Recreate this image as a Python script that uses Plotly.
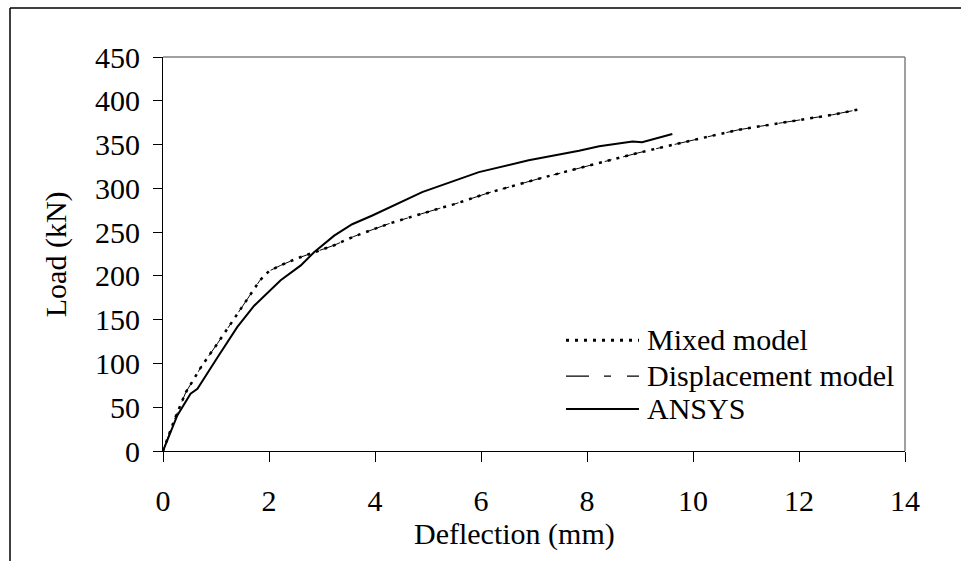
import plotly.graph_objects as go

# ---- data ----
mixed_x = [0, 0.21, 0.43, 0.74, 1.03, 1.34, 1.65, 1.83, 2.0, 2.22, 2.53, 2.85, 3.23, 3.6,
           4.26, 5.21, 5.5, 6.15, 7.09, 8.04, 9.0, 10.11, 10.87, 11.69, 12.63, 13.2]
mixed_y = [0, 35, 67, 98, 123, 151, 178, 195, 205.5, 212, 220, 227, 235, 245,
           259.6, 277, 282, 295, 311, 326, 341, 356.6, 367, 375, 384, 391]
disp_x = [0, 0.21, 0.43, 0.74, 1.03, 1.34, 1.65, 1.83, 2.0, 2.22, 2.53, 2.85, 3.23, 3.6,
          4.26, 5.21, 5.5, 6.15, 7.09, 8.04, 9.0, 10.11, 10.87, 11.69, 12.63, 13.2]
disp_y = [0, 35, 67, 98, 123, 151, 178, 195, 205.5, 212, 220, 227, 235, 245,
          259.6, 277, 282, 295, 311, 326, 341, 356.6, 367, 375, 384, 391]
ansys_x = [0, 0.27, 0.52, 0.65, 1.03, 1.4, 1.72, 2.22, 2.6, 2.85, 3.23, 3.57, 3.95,
           4.89, 5.96, 6.9, 7.85, 8.23, 8.86, 9.04, 9.61]
ansys_y = [0, 40.7, 65.5, 71, 107, 141.5, 166, 195, 212, 227, 246, 259, 269,
           295.7, 318.5, 332, 343, 348, 353.5, 352.7, 362]

x_ticks = [0, 2, 4, 6, 8, 10, 12, 14]
y_ticks = [0, 50, 100, 150, 200, 250, 300, 350, 400, 450]
legend_names = ["Mixed model", "Displacement model", "ANSYS"]

FONT = "Liberation Serif"
FS = 30

# layout geometry (pixels)
W, H = 961, 561
L, R, T, B = 163, 905, 56.5, 451
pw, ph = R - L, B - T


def px(x):
    return (x - L) / pw


def py(y):
    return (B - y) / ph


fig = go.Figure()
fig.add_trace(go.Scatter(x=disp_x, y=disp_y, mode="lines", name=legend_names[1],
                         line=dict(color="black", width=1, dash="22px,12px,7px,12px"),
                         showlegend=False))
fig.add_trace(go.Scatter(x=mixed_x, y=mixed_y, mode="lines", name=legend_names[0],
                         line=dict(color="black", width=2.5, dash="3px,6px"),
                         showlegend=False))
fig.add_trace(go.Scatter(x=ansys_x, y=ansys_y, mode="lines", name=legend_names[2],
                         line=dict(color="black", width=2), showlegend=False))

shapes = []
# plot area top/right gray border
shapes.append(dict(type="line", xref="paper", yref="paper", x0=0, x1=1, y0=1, y1=1,
                   line=dict(color="#808080", width=1.5)))
shapes.append(dict(type="line", xref="paper", yref="paper", x0=1, x1=1, y0=0, y1=1,
                   line=dict(color="#808080", width=1.5)))
# outer frame (left and top)
shapes.append(dict(type="line", xref="paper", yref="paper", x0=px(10), x1=px(10),
                   y0=py(7.5), y1=py(600), line=dict(color="black", width=1.5)))
shapes.append(dict(type="line", xref="paper", yref="paper", x0=px(10), x1=px(1000),
                   y0=py(7.5), y1=py(7.5), line=dict(color="black", width=1.5)))

# custom legend
leg_rows = [340, 376, 409]
leg_styles = [dict(color="black", width=3, dash="3px,6px"),
              dict(color="black", width=1.2, dash="23px,15px,7px,16px,14px"),
              dict(color="black", width=2)]
annotations = []
for name, yy, st in zip(legend_names, leg_rows, leg_styles):
    shapes.append(dict(type="line", xref="paper", yref="paper", x0=px(566), x1=px(639),
                       y0=py(yy), y1=py(yy), line=st))
    annotations.append(dict(xref="paper", yref="paper", x=px(645), y=py(yy - 1),
                            text=name, showarrow=False, xanchor="left", yanchor="middle",
                            font=dict(family=FONT, size=FS, color="black")))

# axis titles
annotations.append(dict(xref="paper", yref="paper", x=px(514), y=py(534), text="Deflection (mm)",
                        showarrow=False, xanchor="center", yanchor="middle",
                        font=dict(family=FONT, size=FS, color="black")))
annotations.append(dict(xref="paper", yref="paper", x=px(56), y=py(254), text="Load (kN)",
                        showarrow=False, xanchor="center", yanchor="middle", textangle=-90,
                        font=dict(family=FONT, size=FS, color="black")))

fig.update_layout(
    width=W, height=H,
    margin=dict(l=L, r=W - R, t=T, b=H - B),
    paper_bgcolor="white", plot_bgcolor="white",
    font=dict(family=FONT, size=FS, color="black"),
    shapes=shapes, annotations=annotations,
    showlegend=False,
)
fig.update_xaxes(range=[0, 14], tickvals=x_ticks, ticktext=[str(v) for v in x_ticks],
                 showgrid=False, zeroline=False, showline=True, linecolor="black", linewidth=1,
                 ticks="outside", ticklen=10, tickcolor="black", tickwidth=1,
                 tickfont=dict(family=FONT, size=FS, color="black"), ticklabelstandoff=13)
fig.update_yaxes(range=[0, 450], tickvals=y_ticks, ticktext=[str(v) for v in y_ticks],
                 showgrid=False, zeroline=False, showline=True, linecolor="black", linewidth=1,
                 ticks="outside", ticklen=9, tickcolor="black", tickwidth=1,
                 tickfont=dict(family=FONT, size=FS, color="black"), ticklabelstandoff=7)

fig.write_html("out.html")
